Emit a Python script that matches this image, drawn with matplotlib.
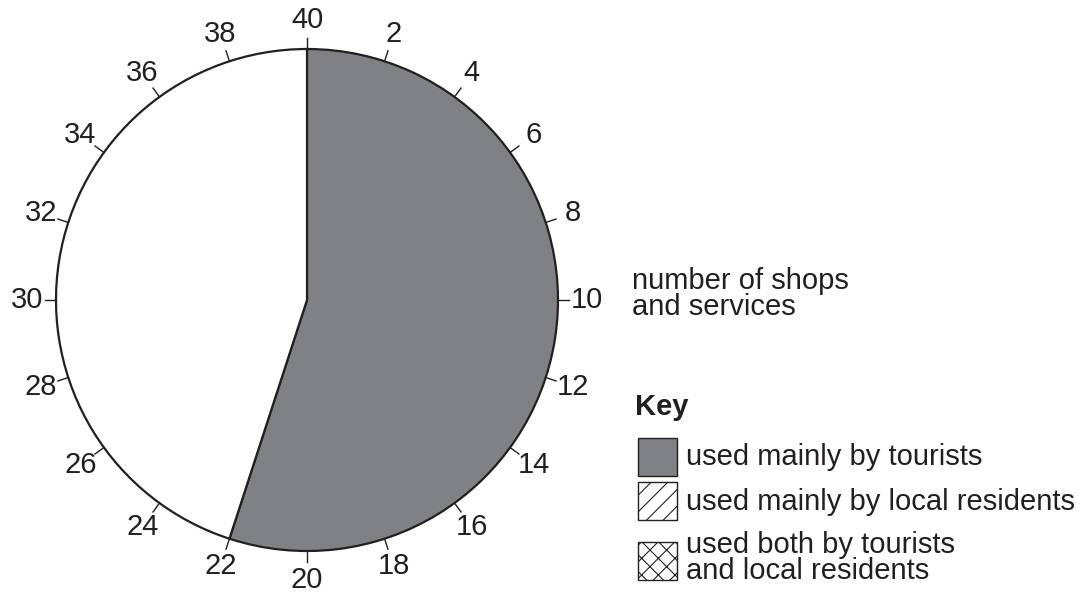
import matplotlib.pyplot as plt
import matplotlib.patches as mpatches
import numpy as np

plt.rcParams['font.family'] = ['Liberation Sans', 'DejaVu Sans']
plt.rcParams['hatch.linewidth'] = 0.8

# data
values = [22, 18]          # tourists, local residents (out of 40)
colors = ['#808184', 'white']
total = 40
tick_values = list(range(0, 40, 2))
tick_labels = ['40' if v == 0 else str(v) for v in tick_values]

key_labels = ['used mainly by tourists',
              'used mainly by local residents',
              'used both by tourists\nand local residents']
key_fill = ['#808184', 'white', 'white']
key_hatch = [None, '//', 'xx']

W, H = 1086, 592
fig = plt.figure(figsize=(W / 100, H / 100), dpi=100)
ax = fig.add_axes([0, 0, 1, 1])

cx, cy, R = 307, 292, 251
ink = '#231f20'

ax.pie(values, colors=colors, startangle=90, counterclock=False,
       center=(cx, cy), radius=R, frame=True,
       wedgeprops=dict(edgecolor=ink, linewidth=1.6))
ax.set_xlim(0, W)
ax.set_ylim(0, H)
ax.set_aspect('equal')
ax.axis('off')

# scale ticks around the circle
for v, lab in zip(tick_values, tick_labels):
    th = np.deg2rad(90 - v / total * 360)
    c, s = np.cos(th), np.sin(th)
    ax.plot([cx + R * c, cx + (R + 11) * c], [cy + R * s, cy + (R + 11) * s],
            color=ink, lw=1.0)
    ax.text(cx + 280 * c, cy + 280 * s, lab, ha='center', va='center',
            fontsize=21, color=ink)

ax.text(632, 298, 'number of shops\nand services', ha='left', va='center',
        fontsize=21, color=ink, linespacing=0.9)

# key
ax.text(635, H - 407, 'Key', ha='left', va='center', fontsize=21,
        fontweight='bold', color=ink)
box_tops = [438, 482, 542]
text_ys = [457, 502, 558]
for top, ty, lab, fc, ht in zip(box_tops, text_ys, key_labels, key_fill, key_hatch):
    ax.add_patch(mpatches.Rectangle((638, H - top - 38), 39, 38, facecolor=fc,
                                    edgecolor=ink, hatch=ht, lw=1.0))
    ax.text(686, H - ty, lab, ha='left', va='center', fontsize=21,
            color=ink, linespacing=0.9)

fig.savefig('out.png', dpi=100)
